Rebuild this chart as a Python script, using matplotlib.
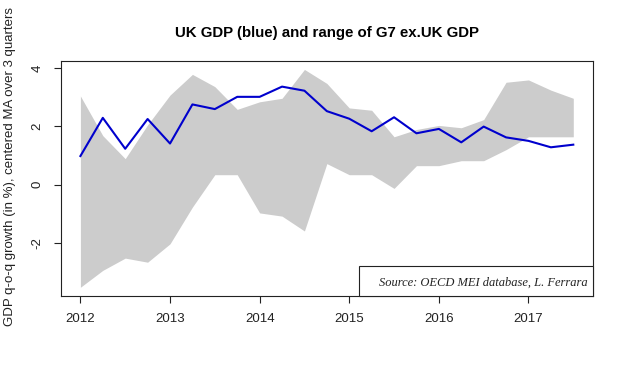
import numpy as np
import matplotlib.pyplot as plt
from matplotlib.patches import Rectangle

# quarterly data, 2012Q1 .. 2017Q3
quarters = 2012 + np.arange(23) / 4.0

uk_gdp = [0.98, 2.29, 1.23, 2.25, 1.41, 2.75, 2.59, 3.01, 3.01, 3.36, 3.22, 2.52,
          2.26, 1.83, 2.31, 1.76, 1.91, 1.45, 1.99, 1.62, 1.50, 1.28, 1.37]

g7_max = [3.04, 1.68, 0.89, 2.05, 3.07, 3.78, 3.36, 2.58, 2.84, 2.96, 3.95, 3.47,
          2.63, 2.55, 1.64, 1.89, 2.03, 1.95, 2.23, 3.51, 3.59, 3.24, 2.96]

g7_min = [-3.52, -2.94, -2.52, -2.66, -2.03, -0.77, 0.34, 0.34, -0.97, -1.08, -1.59, 0.72,
          0.34, 0.34, -0.13, 0.65, 0.65, 0.82, 0.82, 1.20, 1.64, 1.64, 1.64]

year_ticks = [2012, 2013, 2014, 2015, 2016, 2017]
y_ticks = [-2, 0, 2, 4]

plt.rcParams['font.family'] = ['Liberation Sans', 'DejaVu Sans']
plt.rcParams['axes.unicode_minus'] = False

fig = plt.figure(figsize=(6.25, 3.72), dpi=100)
ax = fig.add_axes([0.0971, 0.2043, 0.8517, 0.6325])

ax.fill_between(quarters, g7_min, g7_max, color='#cccccc', linewidth=0)
ax.plot(quarters, uk_gdp, color='#0000cd', linewidth=1.5)

ax.margins(x=0.04, y=0.04)
ax.set_xticks(year_ticks)
ax.set_yticks(y_ticks)
ax.tick_params(axis='both', direction='out', length=5.3, width=0.8, labelsize=9.5,
               pad=7, colors='#222222')
for lab in ax.get_yticklabels():
    lab.set_rotation(90)
    lab.set_va('center')
for sp in ax.spines.values():
    sp.set_linewidth(0.8)
    sp.set_color('#222222')

ax.set_title('UK GDP (blue) and range of G7 ex.UK GDP', fontsize=10.8,
             fontweight='bold', pad=17)

fig.text(0.016, 0.124, 'GDP q-o-q growth (in %), centered MA over 3 quarters',
         rotation=90, ha='center', va='bottom', fontsize=9.5, color='#222222')

# source box in bottom right corner
ax.add_patch(Rectangle((0.561, 0.0), 0.439, 0.1275, transform=ax.transAxes,
                       facecolor='white', edgecolor='#222222', linewidth=0.8,
                       clip_on=False, zorder=3))
ax.text(0.9906, 0.0565, 'Source: OECD MEI database, L. Ferrara', transform=ax.transAxes,
        ha='right', va='center', fontsize=9, style='italic', color='#222222',
        family=['Liberation Serif', 'DejaVu Serif'], zorder=4)

fig.savefig('out.png', dpi=100)
